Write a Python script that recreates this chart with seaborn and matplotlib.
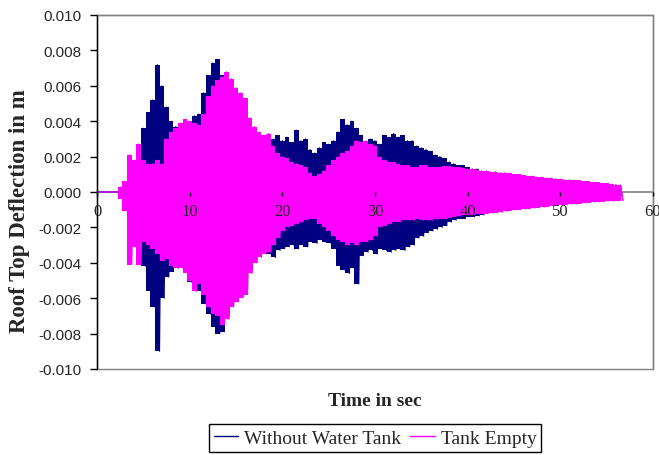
import numpy as np
import pandas as pd
import matplotlib
matplotlib.use("Agg")
import matplotlib.pyplot as plt
import seaborn as sns
from matplotlib.patches import Rectangle
from matplotlib.ticker import FuncFormatter

# Peak roof-top deflections (mm) sampled every half second, 0 s .. 56.5 s.
# Each half-second holds one positive and one negative peak of the response.
STEP = 0.5

no_tank_upper = [
    0, 0, 0, 0, 0, 0.1, 0.3, 0.8, 1.4, 2.7,
    3.6, 4.5, 5.2, 7.2, 6.0, 4.8, 4.0, 3.7, 3.5, 3.8,
    3.9, 4.3, 4.4, 5.6, 6.6, 7.3, 7.5, 6.6, 6.3, 6.0,
    5.6, 5.3, 4.8, 4.0, 3.5, 3.2, 3.0, 2.9, 3.0, 3.2,
    2.9, 3.1, 2.8, 3.5, 2.9, 3.0, 2.4, 2.2, 2.5, 2.8,
    2.7, 2.9, 3.4, 4.1, 3.8, 4.0, 3.6, 3.2, 2.8, 3.0,
    2.9, 2.7, 3.2, 3.1, 3.3, 3.1, 3.2, 2.9, 2.9, 2.6,
    2.5, 2.4, 2.3, 2.1, 2.0, 1.9, 1.7, 1.6, 1.5, 1.5,
    1.4, 1.3, 1.3, 1.2, 1.1, 1.05, 1.0, 1.0, 0.95, 0.95,
    0.9, 0.9, 0.85, 0.8, 0.8, 0.75, 0.75, 0.7, 0.7, 0.65,
    0.65, 0.6, 0.6, 0.6, 0.55, 0.55, 0.5, 0.5, 0.5, 0.45,
    0.45, 0.4, 0.4, 0.35,
]
no_tank_lower = [
    0, 0, 0, 0, 0, -0.1, -0.4, -1.0, -2.2, -3.5,
    -4.2, -5.6, -6.5, -9.0, -6.0, -4.8, -4.5, -4.3, -4.2, -4.4,
    -5.1, -5.6, -5.6, -6.3, -6.9, -7.6, -8.0, -7.9, -7.0, -6.4,
    -6.2, -5.9, -5.5, -4.4, -4.0, -3.6, -3.4, -3.5, -3.7, -3.3,
    -3.2, -3.1, -3.0, -3.2, -3.0, -3.1, -2.8, -2.9, -2.7, -2.8,
    -2.9, -3.2, -4.2, -4.4, -4.6, -4.3, -5.2, -3.6, -3.4, -3.3,
    -3.5, -3.2, -3.3, -3.4, -3.3, -3.2, -3.3, -3.1, -3.0, -2.6,
    -2.5, -2.3, -2.2, -2.1, -2.0, -1.9, -1.7, -1.6, -1.5, -1.5,
    -1.4, -1.4, -1.35, -1.3, -1.15, -1.1, -1.08, -1.05, -1.0, -0.95,
    -0.92, -0.9, -0.88, -0.85, -0.83, -0.8, -0.78, -0.75, -0.72, -0.7,
    -0.67, -0.65, -0.63, -0.61, -0.6, -0.58, -0.55, -0.53, -0.52, -0.5,
    -0.48, -0.47, -0.45, -0.45,
]
empty_upper = [
    0, 0, 0, 0, 0, 0.3, 0.6, 2.1, 1.8, 2.7,
    1.8, 1.6, 1.6, 1.8, 1.6, 3.0, 3.4, 3.6, 3.9, 4.1,
    4.0, 3.9, 3.8, 4.4, 5.4, 6.0, 6.3, 6.5, 6.8, 6.4,
    5.9, 5.6, 5.3, 4.2, 3.7, 3.4, 3.2, 3.3, 2.6, 2.2,
    2.0, 1.9, 1.7, 1.6, 1.5, 1.4, 1.1, 0.9, 1.0, 1.2,
    1.5, 1.8, 2.0, 2.2, 2.3, 2.6, 2.9, 2.8, 2.9, 2.7,
    2.6, 2.0, 1.8, 1.7, 1.7, 1.6, 1.5, 1.5, 1.4, 1.4,
    1.5, 1.5, 1.4, 1.4, 1.4, 1.45, 1.45, 1.4, 1.4, 1.35,
    1.3, 1.3, 1.25, 1.2, 1.2, 1.15, 1.15, 1.1, 1.1, 1.05,
    1.0, 1.0, 0.95, 0.9, 0.9, 0.85, 0.85, 0.8, 0.8, 0.75,
    0.73, 0.7, 0.7, 0.65, 0.65, 0.6, 0.6, 0.56, 0.55, 0.5,
    0.5, 0.45, 0.42, 0.4,
]
empty_lower = [
    0, 0, 0, 0, 0, -0.4, -1.1, -4.1, -3.1, -4.1,
    -2.8, -3.0, -3.2, -3.5, -3.9, -3.8, -4.2, -4.3, -4.3, -4.6,
    -5.0, -5.6, -5.2, -5.8, -6.5, -6.9, -7.0, -7.5, -7.2, -6.5,
    -6.2, -6.0, -5.8, -4.6, -4.0, -3.7, -3.5, -3.4, -3.0, -2.6,
    -2.2, -2.0, -1.9, -1.8, -1.7, -1.6, -1.5, -1.5, -1.8, -2.0,
    -2.2, -2.5, -2.7, -2.8, -3.0, -2.9, -3.0, -2.8, -2.8, -2.7,
    -2.5, -2.0, -1.9, -1.8, -1.7, -1.7, -1.6, -1.6, -1.6, -1.5,
    -1.6, -1.6, -1.6, -1.55, -1.5, -1.5, -1.45, -1.4, -1.35, -1.3,
    -1.3, -1.28, -1.25, -1.25, -1.22, -1.2, -1.18, -1.15, -1.1, -1.05,
    -1.02, -1.0, -0.97, -0.95, -0.92, -0.9, -0.87, -0.83, -0.8, -0.77,
    -0.74, -0.72, -0.7, -0.68, -0.66, -0.63, -0.6, -0.58, -0.56, -0.55,
    -0.53, -0.52, -0.5, -0.5,
]

cases = ["Without Water Tank", "Tank Empty"]
colors = ["#000080", "#FF00FF"]
x_ticks = [0, 10, 20, 30, 40, 50, 60]
y_ticks = [-0.010, -0.008, -0.006, -0.004, -0.002, 0.0, 0.002, 0.004, 0.006, 0.008, 0.010]

series = {
    cases[0]: (no_tank_upper, no_tank_lower),
    cases[1]: (empty_upper, empty_lower),
}


def response_frame(name, upper, lower):
    upper = np.asarray(upper) / 1000.0
    lower = np.asarray(lower) / 1000.0
    t = np.arange(len(upper)) * STEP
    time = np.column_stack([t, t + STEP / 2]).ravel()
    defl = np.column_stack([upper, lower]).ravel()
    return pd.DataFrame({"Time": time, "Deflection": defl, "Case": name})


df = pd.concat([response_frame(n, *series[n]) for n in cases], ignore_index=True)

sns.set_theme(style="white")
plt.rcParams["font.family"] = ["Liberation Serif", "DejaVu Serif"]

W, H = 659, 456
fig = plt.figure(figsize=(W / 100, H / 100), dpi=100)
ax = fig.add_axes([97 / W, 1 - 370 / H, (653 - 97) / W, (370 - 16) / H])

sns.lineplot(data=df, x="Time", y="Deflection", hue="Case", hue_order=cases,
             palette=colors, estimator=None, sort=False, lw=0.8, ax=ax)

# dense oscillation rendered as a solid band between the peaks
for k, (name, color) in enumerate(zip(cases, colors)):
    up, lo = series[name]
    t = np.arange(len(up)) * STEP
    ax.fill_between(t, np.asarray(lo) / 1000.0, np.asarray(up) / 1000.0,
                    step="mid", color=color, lw=0, zorder=1.0 + 0.2 * k)
    ax.lines[k].set_zorder(1.1 + 0.2 * k)

ax.set_xlim(0, 60)
ax.set_ylim(-0.010, 0.010)
ax.set_xticks(x_ticks)
ax.set_yticks(y_ticks)
ax.yaxis.set_major_formatter(FuncFormatter(lambda v, _: f"{0.0 if abs(v) < 1e-12 else v:.3f}"))
ax.set_xlabel("")
ax.set_ylabel("")
ax.set_axisbelow(False)

# frame: black left axis, grey box, grey time axis through zero
for side in ["top", "right"]:
    ax.spines[side].set_color("#808080")
    ax.spines[side].set_linewidth(1.0)
ax.spines["left"].set_color("black")
ax.spines["left"].set_linewidth(1.0)
ax.spines["bottom"].set_position(("data", 0))
ax.spines["bottom"].set_color("#808080")
ax.spines["bottom"].set_linewidth(1.2)
ax.spines["bottom"].set_zorder(0.6)
ax.add_patch(Rectangle((0, 0), 1, 1, transform=ax.transAxes, fill=False,
                       edgecolor="#808080", lw=1.0, zorder=0.5, clip_on=False))

ax.tick_params(axis="y", direction="out", length=5, width=1, color="black",
               labelsize=11, pad=6, labelfontfamily="Liberation Sans", left=True)
ax.tick_params(axis="x", direction="out", length=3, width=1, color="black",
               labelsize=12, pad=5, labelfontfamily="Liberation Serif", bottom=True)

fig.text(375 / W, 1 - 402 / H, "Time in sec", ha="center", va="center",
         fontsize=14, fontweight="bold")
fig.text(20 / W, 1 - 211 / H, "Roof Top Deflection in m", ha="center", va="center",
         rotation=90, fontsize=16.5, fontweight="bold")

handles, labels = ax.get_legend_handles_labels()
leg = ax.legend(handles, labels, ncol=2, loc="center",
                bbox_to_anchor=(375 / W, 1 - 439 / H), bbox_transform=fig.transFigure,
                frameon=True, fancybox=False, edgecolor="black", framealpha=1,
                prop={"family": "Liberation Serif", "size": 14},
                handlelength=1.25, handletextpad=0.3, columnspacing=0.5,
                borderpad=0.25, borderaxespad=0)
leg.get_frame().set_linewidth(1.0)
for line in leg.get_lines():
    line.set_linewidth(1.0)

fig.savefig("out.png", dpi=100)
